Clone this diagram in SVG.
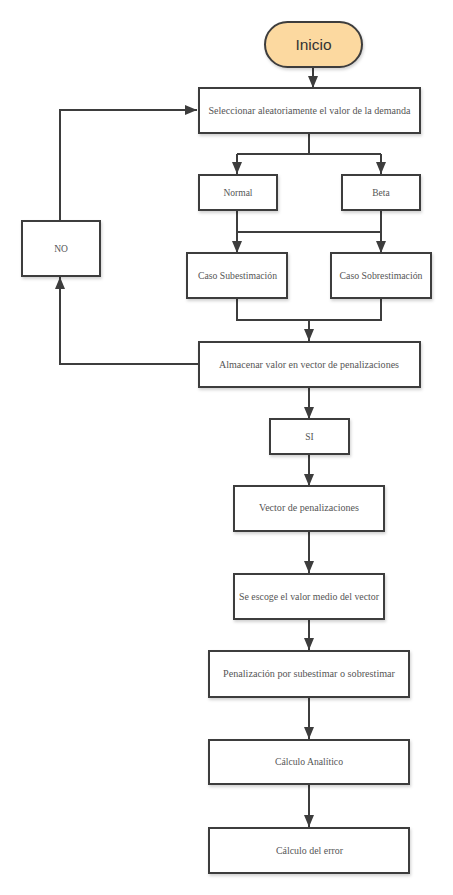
<svg xmlns="http://www.w3.org/2000/svg" width="453" height="895" viewBox="0 0 453 895">
<defs>
<filter id="sh" x="-10%" y="-10%" width="130%" height="140%">
<feDropShadow dx="1" dy="2" stdDeviation="1.5" flood-color="#000" flood-opacity="0.18"/>
</filter>
<marker id="ar" viewBox="0 0 12 10" refX="12" refY="5" markerWidth="12" markerHeight="10" markerUnits="userSpaceOnUse" orient="auto">
<path d="M0,0 L12,5 L0,10 Z" fill="#3d3d3d"/>
</marker>
</defs>
<style>
.box{fill:#fff;stroke:#3d3d3d;stroke-width:2;filter:url(#sh)}
.t{font-family:"Liberation Serif","DejaVu Serif",serif;font-size:9.5px;fill:#555;text-anchor:middle;dominant-baseline:central}
.c{fill:none;stroke:#3d3d3d;stroke-width:2}
</style>
<rect width="453" height="895" fill="#fff"/>
<g id="connectors">
<path class="c" d="M313,67 V88" marker-end="url(#ar)"/>
<path class="c" d="M309,133 V154 M237,154 H381"/>
<path class="c" d="M237,154 V174" marker-end="url(#ar)"/>
<path class="c" d="M381,154 V174" marker-end="url(#ar)"/>
<path class="c" d="M237,232 H381"/>
<path class="c" d="M237,210 V253" marker-end="url(#ar)"/>
<path class="c" d="M381,210 V253" marker-end="url(#ar)"/>
<path class="c" d="M237,298 V320 H381 V298"/>
<path class="c" d="M309,320 V341" marker-end="url(#ar)"/>
<path class="c" d="M199,364 H60 V277" marker-end="url(#ar)"/>
<path class="c" d="M60,221 V110 H197" marker-end="url(#ar)"/>
<path class="c" d="M309,387 V419" marker-end="url(#ar)"/>
<path class="c" d="M309,454 V486" marker-end="url(#ar)"/>
<path class="c" d="M309,531 V573" marker-end="url(#ar)"/>
<path class="c" d="M309,619 V650" marker-end="url(#ar)"/>
<path class="c" d="M309,697 V739" marker-end="url(#ar)"/>
<path class="c" d="M309,784 V827" marker-end="url(#ar)"/>
</g>
<g id="inicio">
<rect x="265" y="22" width="97" height="45" rx="22.5" fill="#fcd9a0" stroke="#3d3d3d" stroke-width="2" filter="url(#sh)"/>
<text x="313.5" y="44.5" font-family="Liberation Sans, Arial, sans-serif" font-size="15.5" fill="#333" text-anchor="middle" dominant-baseline="central">Inicio</text>
</g>
<g id="seleccionar">
<rect class="box" x="199" y="88" width="221" height="45"/>
<text class="t" x="309.5" y="111" textLength="202" lengthAdjust="spacingAndGlyphs">Seleccionar aleatoriamente el valor de la demanda</text>
</g>
<g id="normal">
<rect class="box" x="199" y="175" width="78" height="35"/>
<text class="t" x="238" y="193">Normal</text>
</g>
<g id="beta">
<rect class="box" x="342" y="175" width="78" height="35"/>
<text class="t" x="381" y="193">Beta</text>
</g>
<g id="no">
<rect class="box" x="22" y="221" width="78" height="55"/>
<text class="t" x="61" y="249">NO</text>
</g>
<g id="subestimacion">
<rect class="box" x="187" y="253" width="100" height="45"/>
<text class="t" x="237.5" y="276" textLength="79" lengthAdjust="spacingAndGlyphs">Caso Subestimación</text>
</g>
<g id="sobrestimacion">
<rect class="box" x="331" y="253" width="100" height="45"/>
<text class="t" x="381" y="276" textLength="83" lengthAdjust="spacingAndGlyphs">Caso Sobrestimación</text>
</g>
<g id="almacenar">
<rect class="box" x="199" y="342" width="221" height="45"/>
<text class="t" x="309" y="365" textLength="180" lengthAdjust="spacingAndGlyphs">Almacenar valor en vector de penalizaciones</text>
</g>
<g id="si">
<rect class="box" x="270" y="419" width="79" height="35"/>
<text class="t" x="309.5" y="437">SI</text>
</g>
<g id="vector">
<rect class="box" x="234" y="486" width="150" height="45"/>
<text class="t" x="309" y="508" textLength="100" lengthAdjust="spacingAndGlyphs">Vector de penalizaciones</text>
</g>
<g id="medio">
<rect class="box" x="234" y="574" width="150" height="45"/>
<text class="t" x="309" y="597" textLength="140" lengthAdjust="spacingAndGlyphs">Se escoge el valor medio del vector</text>
</g>
<g id="penalizacion">
<rect class="box" x="209" y="651" width="200" height="46"/>
<text class="t" x="309" y="674" textLength="172" lengthAdjust="spacingAndGlyphs">Penalización por subestimar o sobrestimar</text>
</g>
<g id="analitico">
<rect class="box" x="209" y="740" width="200" height="44"/>
<text class="t" x="309" y="762" textLength="68" lengthAdjust="spacingAndGlyphs">Cálculo Analítico</text>
</g>
<g id="error">
<rect class="box" x="209" y="828" width="200" height="45"/>
<text class="t" x="309.5" y="851" textLength="67" lengthAdjust="spacingAndGlyphs">Cálculo del error</text>
</g>
</svg>
